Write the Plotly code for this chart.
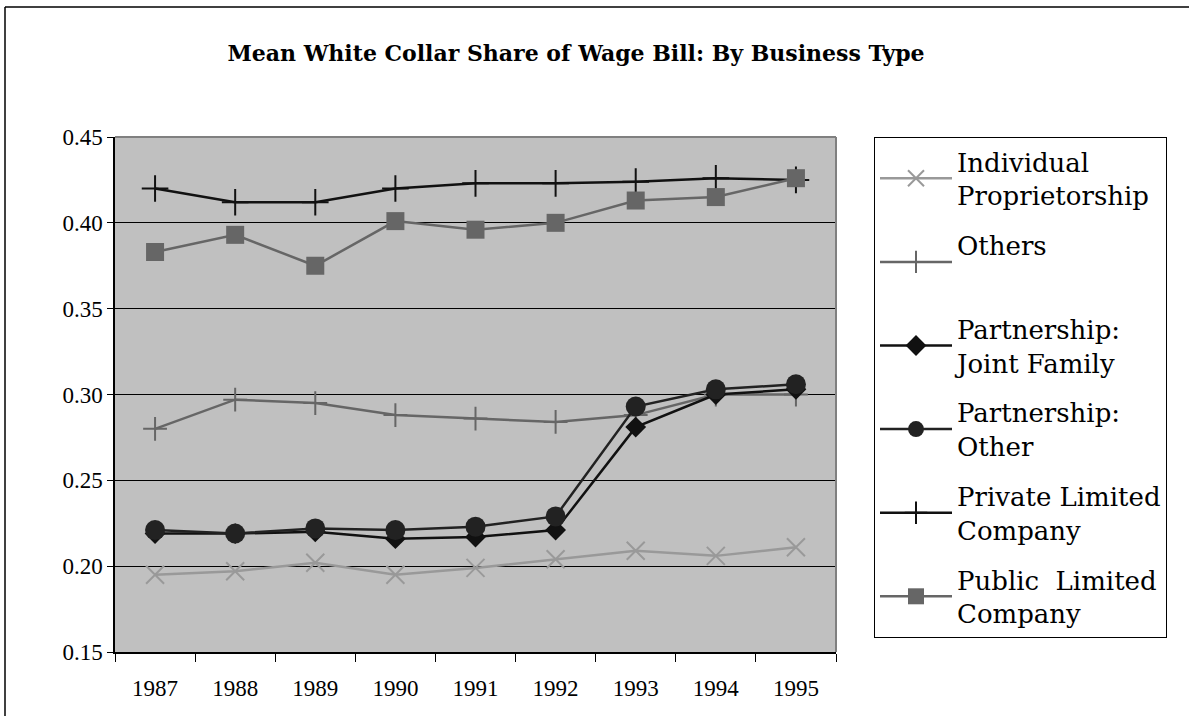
import plotly.graph_objects as go

years = ["1987", "1988", "1989", "1990", "1991", "1992", "1993", "1994", "1995"]

individual_proprietorship = [0.195, 0.197, 0.202, 0.195, 0.199, 0.204, 0.209, 0.206, 0.211]
others = [0.280, 0.297, 0.295, 0.288, 0.286, 0.284, 0.288, 0.300, 0.300]
partnership_joint_family = [0.219, 0.219, 0.220, 0.216, 0.217, 0.221, 0.281, 0.300, 0.303]
partnership_other = [0.221, 0.219, 0.222, 0.221, 0.223, 0.229, 0.293, 0.303, 0.306]
private_limited = [0.420, 0.412, 0.412, 0.420, 0.423, 0.423, 0.424, 0.426, 0.425]
public_limited = [0.383, 0.393, 0.375, 0.401, 0.396, 0.400, 0.413, 0.415, 0.426]

names = [
    "Individual<br>Proprietorship",
    "Others<br><span style='font-size:30px'> </span>",
    "Partnership:<br>Joint Family",
    "Partnership:<br>Other",
    "Private Limited<br>Company",
    "Public  Limited<br>Company",
]

W, H = 1189, 716
L, R, T, B = 115, 836, 137, 652

fig = go.Figure()

styles = [
    (individual_proprietorship, "#999999", "x-thin", 18, 2),
    (others, "#666666", "cross-thin", 17, 2),
    (partnership_joint_family, "#111111", "diamond", 16, 1),
    (partnership_other, "#222222", "circle", 20, 1),
    (private_limited, "#111111", "cross-thin", 19, 2),
    (public_limited, "#666666", "square", 18, 1),
]

for i, ((vals, col, sym, size, lw), nm) in enumerate(zip(styles, names)):
    thin = sym.endswith("thin")
    fig.add_trace(go.Scatter(
        x=years, y=vals, name=nm, mode="lines+markers",
        legendgroup="g%d" % i,
        line=dict(color=col, width=2.5),
        marker=dict(symbol=sym, size=size, color=col,
                    line=dict(color=col, width=2 if thin else 0)),
    ))

def px_x(p):
    return (p - L) / (R - L)

def px_y(p):
    return (B - p) / (B - T)

shapes = [
    dict(type="line", xref="paper", yref="paper", x0=px_x(5), x1=px_x(1200), y0=px_y(7), y1=px_y(7),
         line=dict(color="black", width=1.5)),
    dict(type="line", xref="paper", yref="paper", x0=px_x(5), x1=px_x(5), y0=px_y(7), y1=px_y(730),
         line=dict(color="black", width=1.5)),
    dict(type="line", xref="paper", yref="paper", x0=0, x1=1, y0=1, y1=1,
         line=dict(color="#808080", width=2)),
    dict(type="line", xref="paper", yref="paper", x0=1, x1=1, y0=0, y1=1,
         line=dict(color="#808080", width=2)),
]

fig.update_layout(
    width=W, height=H,
    margin=dict(l=L, r=W - R, t=T, b=H - B),
    paper_bgcolor="white",
    plot_bgcolor="#C0C0C0",
    font=dict(family="DejaVu Serif, serif", color="black"),
    title=dict(text="<b>Mean White Collar Share of Wage Bill: By Business Type</b>",
               x=576 / W, xanchor="center", y=1 - 53 / H, yanchor="middle",
               font=dict(size=22, family="DejaVu Serif, serif", color="black")),
    xaxis=dict(type="category", range=[-0.5, 8.5], showgrid=False,
               showline=True, linecolor="black", linewidth=1.5,
               ticks="outside", tickson="boundaries", ticklen=8, tickcolor="black",
               tickfont=dict(size=23, family="Liberation Serif, serif"), ticklabelstandoff=15),
    yaxis=dict(range=[0.15, 0.45], dtick=0.05, tickformat=".2f",
               showgrid=True, gridcolor="black", gridwidth=1,
               showline=True, linecolor="black", linewidth=1.5,
               ticks="outside", ticklen=6, tickcolor="black",
               tickfont=dict(size=23, family="Liberation Serif, serif"), zeroline=False),
    legend=dict(x=px_x(874), y=1.0, xanchor="left", yanchor="top",
                bgcolor="white", bordercolor="black", borderwidth=1,
                font=dict(size=26, family="DejaVu Serif, serif", color="black"),
                itemwidth=72, tracegroupgap=13),
    shapes=shapes,
    showlegend=True,
)

fig.write_html("out.html")
